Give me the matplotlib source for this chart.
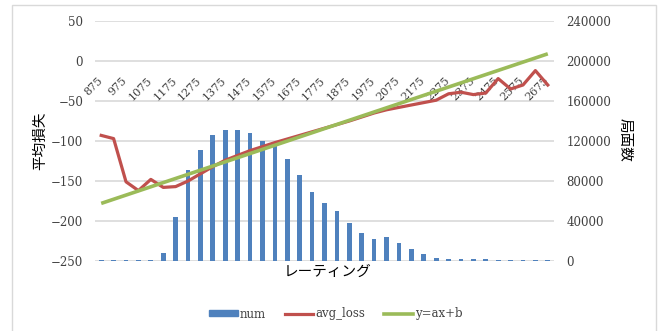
import matplotlib
matplotlib.use('Agg')
import matplotlib.pyplot as plt
from matplotlib.patches import Rectangle
from matplotlib.lines import Line2D
import matplotlib.transforms as mtransforms

# rating bins (category axis)
ratings = [875, 925, 975, 1025, 1075, 1125, 1175, 1225, 1275, 1325,
           1375, 1425, 1475, 1525, 1575, 1625, 1675, 1725, 1775, 1825,
           1875, 1925, 1975, 2025, 2075, 2125, 2175, 2225, 2275, 2325,
           2375, 2425, 2475, 2525, 2575, 2625, 2675]

# number of positions per bin (secondary axis)
num = [900, 900, 900, 900, 1500, 8000, 44000, 91000, 111000, 126000,
       131000, 131000, 128000, 120000, 115000, 102000, 86000, 69000, 58000, 50000,
       38000, 28000, 22000, 24000, 18000, 12000, 7000, 3500, 1800, 1800,
       1800, 1600, 900, 800, 800, 800, 800]

# average loss per bin (primary axis)
avg_loss = [-93, -97, -151, -162, -148, -158, -157, -150, -141, -132,
            -124, -118, -112, -107, -102, -97.5, -93, -88.5, -84, -79.5,
            -75, -70, -65, -61, -58, -55, -52, -49, -41, -39,
            -42, -40, -22, -35, -30, -12, -30]

# linear trend line, start and end values
trend_idx = [0, 36]
trend_val = [-178, 9]

blue = '#4F81BD'
red = '#C0504D'
green = '#9BBB59'
serif = 'DejaVu Serif'
jp = 'Noto Sans CJK JP'

fig = plt.figure(figsize=(6.6, 3.31), dpi=100)
ax = fig.add_axes([95/660, 1 - 261/331, (554 - 95)/660, 240/331])
ax2 = ax.twinx()
ax.set_zorder(ax2.get_zorder() + 1)
ax.patch.set_visible(False)

x = list(range(len(ratings)))

# bars on the secondary axis (drawn below the lines)
ax2.bar(x, num, width=0.38, color=blue, zorder=2)
ax2.set_ylim(0, 240000)
ax2.set_yticks([0, 40000, 80000, 120000, 160000, 200000, 240000])
ax2.grid(axis='y', color='#D9D9D9', linewidth=1.2, zorder=0)
ax2.set_axisbelow(True)

# lines on the primary axis
ax.plot(x, avg_loss, color=red, linewidth=2.3, solid_joinstyle='round', zorder=3)
ax.plot(trend_idx, trend_val, color=green, linewidth=2.6, solid_capstyle='butt', zorder=4)
ax.set_ylim(-250, 50)
ax.set_yticks([50, 0, -50, -100, -150, -200, -250])
ax.set_xlim(-0.5, len(ratings) - 0.5)

for a in (ax, ax2):
    for s in a.spines.values():
        s.set_visible(False)
    a.tick_params(axis='y', length=0, labelsize=8.5, labelcolor='#404040')
    for lab in a.get_yticklabels():
        lab.set_family(serif)
ax.tick_params(axis='y', pad=8.5)
ax2.tick_params(axis='y', pad=9)

# category labels sit on the y=0 line, every other bin
ax.spines['bottom'].set_position(('data', 0))
ax.set_xticks(x[::2])
ax.set_xticklabels([str(r) for r in ratings[::2]], rotation=45, ha='right', va='top',
                   family=serif, fontsize=8, color='#404040')
ax.tick_params(axis='x', length=0, pad=10)
offset = mtransforms.ScaledTranslation(3/100, 0, fig.dpi_scale_trans)
for lab in ax.get_xticklabels():
    lab.set_transform(lab.get_transform() + offset)

# axis titles
fig.text(40/660, 1 - 141/331, '平均損失', rotation=90, ha='center', va='center',
         family=jp, fontsize=10.5)
fig.text(625/660, 1 - 140/331, '局面数', rotation=270, ha='center', va='center',
         family=jp, fontsize=10.5)
fig.text(328/660, 1 - 272/331, 'レーティング', ha='center', va='center',
         family=jp, fontsize=10.5)

# legend
handles = [Rectangle((0, 0), 1, 1, color=blue),
           Line2D([], [], color=red, linewidth=2.3),
           Line2D([], [], color=green, linewidth=2.6)]
fig.legend(handles, ['num', 'avg_loss', 'y=ax+b'], loc='center', ncol=3,
           bbox_to_anchor=(336/660, 1 - 314/331), frameon=False,
           prop={'family': serif, 'size': 8.5}, handlelength=2.4, handleheight=0.45,
           handletextpad=0.2, columnspacing=1.6, labelcolor='#404040')

# chart border
fig.patches.append(Rectangle((12/660, -0.01), 644/660, 1 - 5/331 + 0.01,
                             transform=fig.transFigure, fill=False,
                             edgecolor='#D9D9D9', linewidth=1))

fig.savefig('out.png', dpi=100)
